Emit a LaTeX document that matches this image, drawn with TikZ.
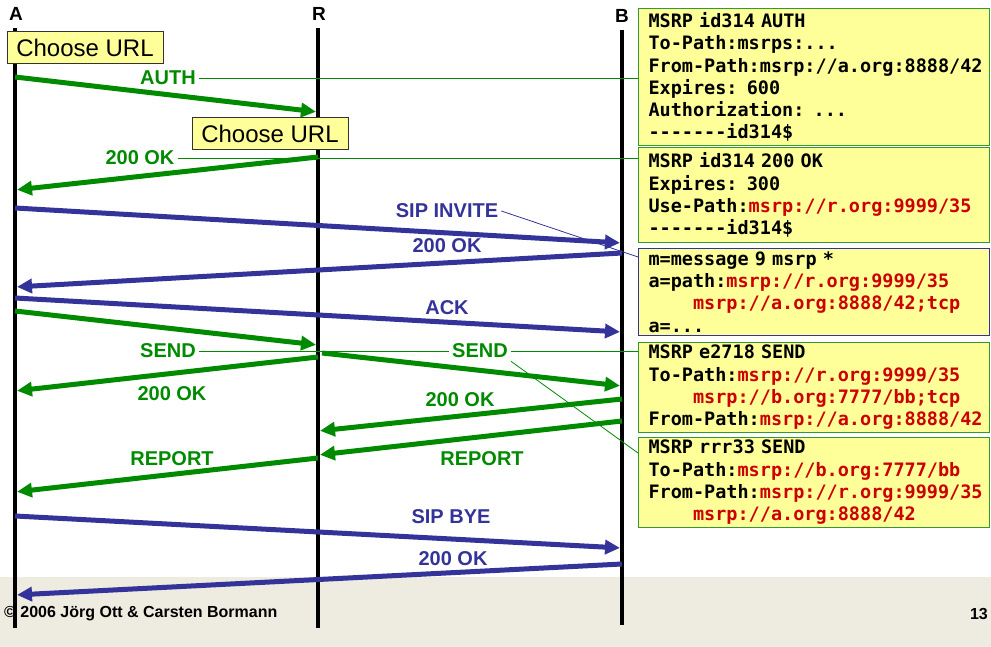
\documentclass[tikz,border=0pt]{standalone}
\usepackage{fontspec}
\setmainfont{Liberation Sans}
\setmonofont{DejaVu Sans Mono}
\usetikzlibrary{arrows.meta,positioning}

\definecolor{msgreen}{HTML}{008A00}
\definecolor{msblue}{HTML}{333399}
\definecolor{msred}{HTML}{CC0000}
\definecolor{boxgreen}{HTML}{339933}
\definecolor{noteyellow}{HTML}{FFFF99}
\definecolor{footgray}{HTML}{EEEBE0}
\newcommand\uri[1]{\textcolor{msred}{#1}}
\DeclareRobustCommand\pktfont{\ttfamily\bfseries\fontsize{18.5}{22.3}\selectfont
  \spaceskip=0.602em\relax}

\tikzset{
  who/.style = {font=\bfseries\fontsize{19}{19}\selectfont, inner sep=1pt},
  lifeline/.style = {line width=4pt},
  msg/.style = {line width=5pt, -{Triangle[length=15pt,width=14pt]}, shorten >=2pt},
  glab/.style = {text=msgreen, font=\bfseries\fontsize{20}{20}\selectfont, inner sep=3pt},
  blab/.style = {text=msblue, font=\bfseries\fontsize{20}{20}\selectfont, inner sep=3pt},
  gthin/.style = {draw=msgreen, line width=0.8pt},
  bthin/.style = {draw=msblue, line width=0.8pt},
  urlbox/.style = {draw=black!80, line width=1pt, fill=noteyellow, minimum width=156pt,
    minimum height=32pt, inner sep=0pt, font=\fontsize{24}{24}\selectfont},
  pkt/.style = {draw=boxgreen, line width=1pt, fill=noteyellow, anchor=north west,
    minimum width=351pt, text width=331pt, inner xsep=10pt, inner ysep=2pt, align=left,
    font=\pktfont},
  footnote/.style = {font=\bfseries\fontsize{16}{16}\selectfont, inner sep=0pt}
}

\begin{document}
\begin{tikzpicture}[x=1pt, y=-1pt]
\useasboundingbox (0,0) rectangle (991,647);

% footer
\fill[footgray] (0,577) rectangle (991,647);
\node[footnote, anchor=west] (copy) at (4,614) {\textcopyright{} 2006 Jörg Ott \& Carsten Bormann};
\node[footnote, anchor=east] (page) at (988,614) {13};

% the three parties
\node[who] (A) at (16,14) {A};
\node[who] (R) at (319,14) {R};
\node[who] (B) at (622,16) {B};
\coordinate (Aend) at (15,628);
\coordinate (Rend) at (318,628);
\coordinate (Bend) at (622,625);
\draw[lifeline] (Aend |- 0,28) -- (Aend);
\draw[lifeline] (Rend |- 0,28) -- (Rend);
\draw[lifeline] (B |- 0,30) -- (Bend);

% messages
\draw[msg, msgreen] (Aend |- 0,77) -- (Rend |- 0,112);
\draw[msg, msgreen] (Rend |- 0,157) -- (Aend |- 0,190);
\draw[msg, msblue] (Aend |- 0,208) -- (B |- 0,243);
\draw[msg, msblue] (B |- 0,253) -- (Aend |- 0,287);
\draw[msg, msblue] (Aend |- 0,298) -- (B |- 0,332);
\draw[msg, msgreen] (Aend |- 0,311) -- (Rend |- 0,345);
\draw[msg, msgreen] ([xshift=4pt]Rend |- 0,353) -- (B |- 0,386);
\draw[msg, msgreen] (Rend |- 0,357) -- (Aend |- 0,391);
\draw[msg, msgreen] (B |- 0,399) -- (Rend |- 0,431);
\draw[msg, msgreen] (B |- 0,421) -- (Rend |- 0,455);
\draw[msg, msgreen] (Rend |- 0,458) -- (Aend |- 0,492);
\draw[msg, msblue] (Aend |- 0,516) -- (B |- 0,548);
\draw[msg, msblue] (B |- 0,564) -- (Aend |- 0,595);

% labels
\node[glab] (auth) at (168,78) {AUTH};
\node[glab] (ok1) at (140,158) {200 OK};
\node[blab] (invite) at (447,211) {SIP INVITE};
\node[blab] (ok2) at (447,246) {200 OK};
\node[blab] (ack) at (447,308) {ACK};
\node[glab] (send1) at (168,351) {SEND};
\node[glab] (send2) at (480,351) {SEND};
\node[glab] (ok3) at (172,394) {200 OK};
\node[glab] (ok4) at (460,400) {200 OK};
\node[glab] (rep1) at (482,459) {REPORT};
\node[glab] (rep2) at (172,459) {REPORT};
\node[blab] (bye) at (451,517) {SIP BYE};
\node[blab] (ok5) at (453,559) {200 OK};

% choose URL notes
\node[urlbox] (url1) at (85,48) {Choose URL};
\node[urlbox] (url2) at (270,134) {Choose URL};

% message contents
\node[pkt, minimum height=137pt] (authmsg) at (638,8) {MSRP id314 AUTH\\
To-Path:msrps:...\\
From-Path:msrp://a.org:8888/42\\
Expires: 600\\
Authorization: ...\\
-------id314\$};
\node[pkt, minimum height=95pt] (okmsg) at (638,147) {MSRP id314 200 OK\\
Expires: 300\\
Use-Path:\uri{msrp://r.org:9999/35}\\
-------id314\$};
\node[pkt, draw=msblue, minimum height=87pt] (sdp) at (638,248) {m=message 9 msrp *\\
a=path:\uri{msrp://r.org:9999/35}\\
\hphantom{xxxx}\uri{msrp://a.org:8888/42;tcp}\\
a=...};
\node[pkt, minimum height=90pt] (sendmsg) at (638,342) {MSRP e2718 SEND\\
To-Path:\uri{msrp://r.org:9999/35}\\
\hphantom{xxxx}\uri{msrp://b.org:7777/bb;tcp}\\
From-Path:\uri{msrp://a.org:8888/42}};
\node[pkt, minimum height=90pt] (relaymsg) at (638,437) {MSRP rrr33 SEND\\
To-Path:\uri{msrp://b.org:7777/bb}\\
From-Path:\uri{msrp://r.org:9999/35}\\
\hphantom{xxxx}\uri{msrp://a.org:8888/42}};

% label leaders
\draw[gthin] (auth) -- (auth -| authmsg.west);
\draw[gthin] (ok1) -- (ok1 -| okmsg.west);
\draw[bthin] (invite.east) -- ([yshift=-9pt]sdp.north west);
\draw[gthin] (send1) -- (send2);
\draw[gthin] (send2) -- (send2 -| sendmsg.west);
\draw[gthin] (send2.south east) -- ([yshift=-16pt]relaymsg.north west);
\end{tikzpicture}
\end{document}
